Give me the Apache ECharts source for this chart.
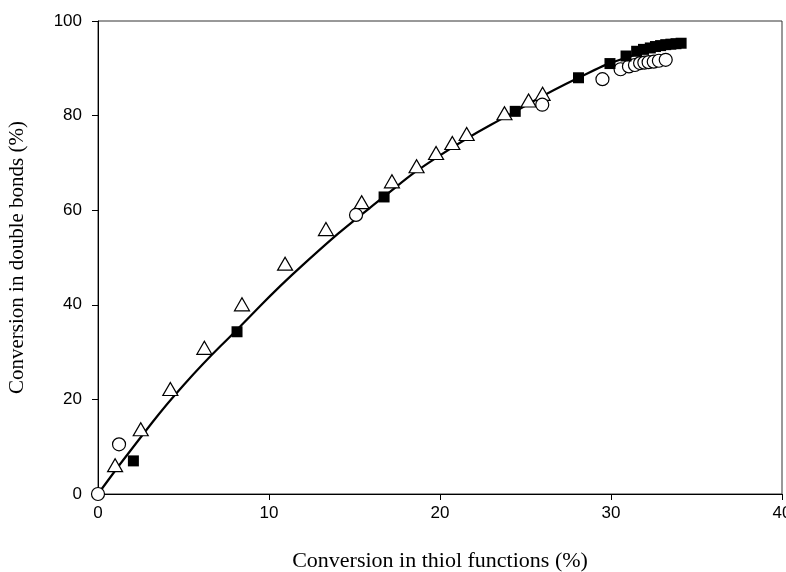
<!DOCTYPE html>
<html>
<head>
<meta charset="utf-8">
<script src="https://cdn.jsdelivr.net/npm/echarts@6/dist/echarts.min.js"></script>
<style>html,body{margin:0;padding:0;background:#fff;}#c{width:786px;height:572px;}</style>
</head>
<body>
<div id="c"></div>
<script>
// Filled squares
const squaresX = [2.07, 8.13, 16.73, 24.4, 28.1, 29.94, 30.88, 31.5, 31.9, 32.3, 32.6, 32.9, 33.2, 33.5, 33.8, 34.1];
const squaresY = [7.0, 34.3, 62.8, 80.9, 88.0, 91.0, 92.6, 93.6, 94.0, 94.3, 94.6, 94.8, 95.0, 95.1, 95.2, 95.3];
// Open triangles
const trianglesX = [1.0, 2.5, 4.23, 6.22, 8.42, 10.94, 13.33, 15.42, 17.19, 18.63, 19.77, 20.72, 21.56, 23.77, 25.18, 26.0];
const trianglesY = [6.1, 13.7, 22.2, 30.9, 40.1, 48.7, 56.0, 61.7, 66.1, 69.3, 72.1, 74.2, 76.1, 80.5, 83.2, 84.6];
// Open circles
const circlesX = [0, 1.23, 15.09, 25.98, 29.5, 30.56, 31.05, 31.4, 31.7, 31.95, 32.2, 32.5, 32.8, 33.2];
const circlesY = [0, 10.5, 59.0, 82.3, 87.7, 89.8, 90.4, 90.7, 91.1, 91.2, 91.3, 91.4, 91.6, 91.8];
// Fitted curve
const curveX = [0, 2.5, 5, 8.2, 12, 16.7, 20, 24.4, 28.1, 31, 34.2];
const curveY = [0, 12.0, 23.0, 35.0, 48.5, 62.8, 71.6, 80.9, 88.0, 92.4, 95.3];
// Axis ticks
const xTicks = [0, 10, 20, 30, 40];
const yTicks = [0, 20, 40, 60, 80, 100];

const zip = (a, b) => a.map((v, i) => [v, b[i]]);

const chart = echarts.init(document.getElementById('c'), null, {renderer: 'canvas'});
const axisFont = {fontFamily: 'Liberation Sans', fontSize: 17, color: '#000'};
chart.setOption({
  animation: false,
  backgroundColor: '#fff',
  grid: {left: 98, right: 4, top: 21, bottom: 78, outerBoundsMode: 'none', containLabel: false,
         show: true, borderColor: '#333', borderWidth: 1},
  xAxis: {
    type: 'value', min: 0, max: 40, interval: 10,
    name: 'Conversion in thiol functions (%)', nameLocation: 'middle', nameGap: 56,
    nameTextStyle: {fontFamily: 'Liberation Serif', fontSize: 22, color: '#000'},
    axisLine: {show: true, lineStyle: {color: '#000', width: 1}},
    axisTick: {show: true, inside: false, length: 6, lineStyle: {color: '#000'}},
    axisLabel: Object.assign({margin: 11, formatter: v => xTicks.includes(v) ? String(v) : ''}, axisFont),
    splitLine: {show: false}
  },
  yAxis: {
    type: 'value', min: 0, max: 100, interval: 20,
    name: 'Conversion in double bonds (%)', nameLocation: 'middle', nameGap: 70, nameRotate: 90,
    nameTextStyle: {fontFamily: 'Liberation Serif', fontSize: 21, color: '#000'},
    axisLine: {show: true, lineStyle: {color: '#000', width: 1}},
    axisTick: {show: true, inside: false, length: 6, lineStyle: {color: '#000'}},
    axisLabel: Object.assign({margin: 16, formatter: v => yTicks.includes(v) ? String(v) : ''}, axisFont),
    splitLine: {show: false}
  },
  series: [
    {
      type: 'line', data: zip(curveX, curveY), smooth: 0.5, symbol: 'none',
      lineStyle: {color: '#000', width: 2.2}, z: 2
    },
    {
      type: 'scatter', data: zip(trianglesX, trianglesY), symbol: 'triangle', symbolSize: [15, 13],
      itemStyle: {color: '#fff', borderColor: '#000', borderWidth: 1.2, opacity: 1}, z: 3
    },
    {
      type: 'scatter', data: zip(circlesX, circlesY), symbol: 'circle', symbolSize: 13,
      itemStyle: {color: '#fff', borderColor: '#000', borderWidth: 1.2, opacity: 1}, z: 4
    },
    {
      type: 'scatter', data: zip(squaresX, squaresY), symbol: 'rect', symbolSize: 11,
      itemStyle: {color: '#000', borderColor: '#000', borderWidth: 0, opacity: 1}, z: 5
    }
  ]
});
</script>
</body>
</html>
